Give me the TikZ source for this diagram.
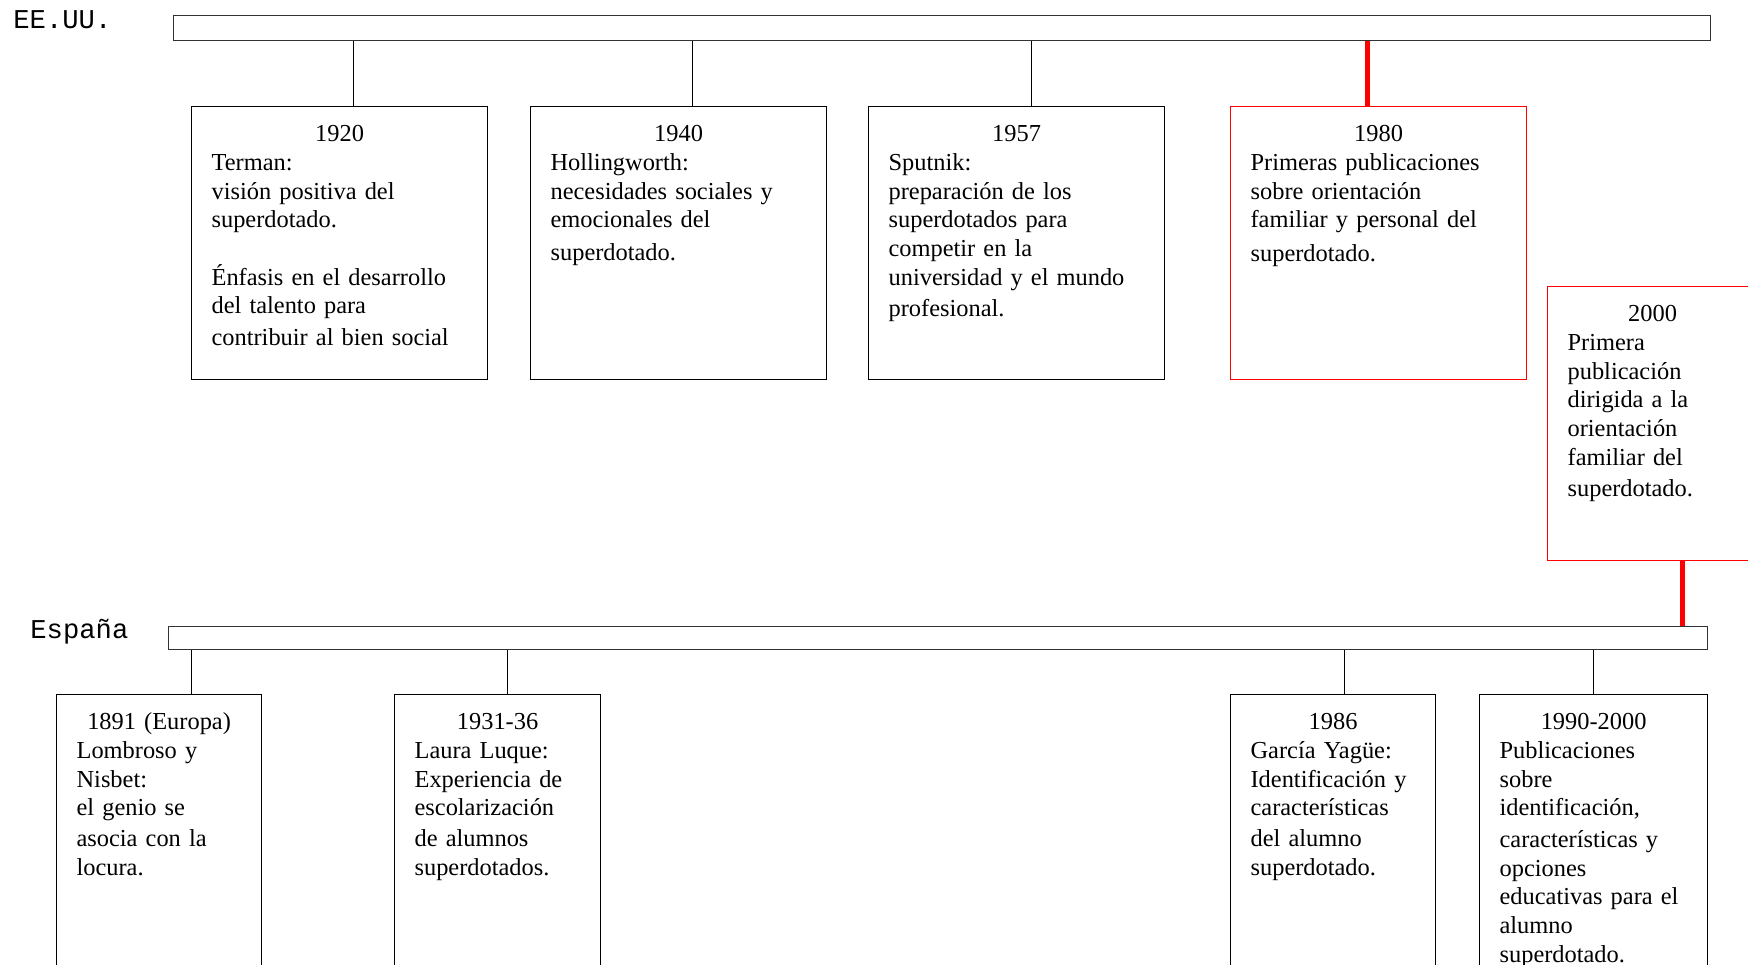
\documentclass[tikz,border=0pt]{standalone}
\usepackage{fontspec}
\setmainfont{Liberation Serif}
\newfontfamily\monofnt{Liberation Mono}
\usepackage{tikz}

\begin{document}
\begin{tikzpicture}[x=0.5pt, y=-0.5pt,
  card/.style={draw=black, line width=0.6pt, anchor=north west, align=left,
    inner xsep=10pt, inner ysep=9pt, text height=8.5pt, text depth=#1,
    font=\fontsize{12.2}{14.35}\selectfont},
  redcard/.style={card=#1, draw=red},
  bar/.style={draw=black!80, line width=0.6pt, anchor=north west, inner sep=0pt},
  tag/.style={anchor=base west, inner sep=0pt, font=\monofnt\fontsize{13.6}{16}\selectfont},
  link/.style={line width=0.6pt},
  redlink/.style={draw=red, line width=2.6pt}]

\useasboundingbox (0,0) rectangle (1748,964);
\clip (0,0) rectangle (1748,964);

\node[bar, minimum width=768.5pt, minimum height=12.5pt] (usabar) at (173,15) {};
\node[bar, minimum width=769.5pt, minimum height=11.5pt] (espbar) at (168,626) {};

\node[tag] (usa) at (13,28) {EE.UU.};
\node[tag] (esp) at (30,638) {España};

% EE.UU.
\node[card=110pt, text width=128pt] (b1920) at (191,106) {\makebox[\linewidth]{1920}\\Terman:\\visión positiva del\\superdotado.\\[14.35pt]Énfasis en el desarrollo\\del talento para\\[1.5pt]contribuir al bien social};
\node[card=110pt, text width=128pt] (b1940) at (530,106) {\makebox[\linewidth]{1940}\\Hollingworth:\\necesidades sociales y\\emocionales del\\[2pt]superdotado.};
\node[card=110pt, text width=128pt] (b1957) at (868,106) {\makebox[\linewidth]{1957}\\Sputnik:\\preparación de los\\superdotados para\\competir en la\\universidad y el mundo\\[1.5pt]profesional.};
\node[redcard=110pt, text width=128pt] (b1980) at (1230,106) {\makebox[\linewidth]{1980}\\Primeras publicaciones\\sobre orientación\\familiar y personal del\\[2.5pt]superdotado.};
\node[redcard=110.5pt, text width=85pt] (b2000) at (1547,286) {\makebox[\linewidth]{2000}\\Primera\\publicación\\dirigida a la\\orientación\\familiar del\\[1.5pt]superdotado.};

% España
\node[card=150pt, text width=82.5pt] (b1891) at (56,694) {\makebox[\linewidth]{1891 (Europa)}\\Lombroso y\\Nisbet:\\el genio se\\[1pt]asocia con la\\locura.};
\node[card=150pt, text width=83pt] (b1931) at (394,694) {\makebox[\linewidth]{1931-36}\\Laura Luque:\\Experiencia de\\escolarización\\[1pt]de alumnos\\superdotados.};
\node[card=150pt, text width=82.5pt] (b1986) at (1230,694) {\makebox[\linewidth]{1986}\\García Yagüe:\\Identificación y\\características\\[1pt]del alumno\\superdotado.};
\node[card=150pt, text width=94pt] (b1990) at (1479,694) {\makebox[\linewidth]{1990-2000}\\Publicaciones\\sobre\\identificación,\\[1.5pt]características y\\opciones\\educativas para el\\alumno\\superdotado.};

\draw[link] ([xshift=7pt]b1920.north) -- ([xshift=7pt]b1920.north |- usabar.south);
\draw[link] ([xshift=7pt]b1940.north) -- ([xshift=7pt]b1940.north |- usabar.south);
\draw[link] ([xshift=7.5pt]b1957.north) -- ([xshift=7.5pt]b1957.north |- usabar.south);
\draw[redlink] ([xshift=-5.5pt]b1980.north) -- ([xshift=-5.5pt]b1980.north |- usabar.south);

\draw[link] ([xshift=16pt]b1891.north) -- ([xshift=16pt]b1891.north |- espbar.south);
\draw[link] ([xshift=5pt]b1931.north) -- ([xshift=5pt]b1931.north |- espbar.south);
\draw[link] ([xshift=5.75pt]b1986.north) -- ([xshift=5.75pt]b1986.north |- espbar.south);
\draw[link] (b1990.north) -- (b1990.north |- espbar.south);
\draw[redlink] ([xshift=15pt]b2000.south) -- ([xshift=15pt]b2000.south |- espbar.north);
\end{tikzpicture}
\end{document}
